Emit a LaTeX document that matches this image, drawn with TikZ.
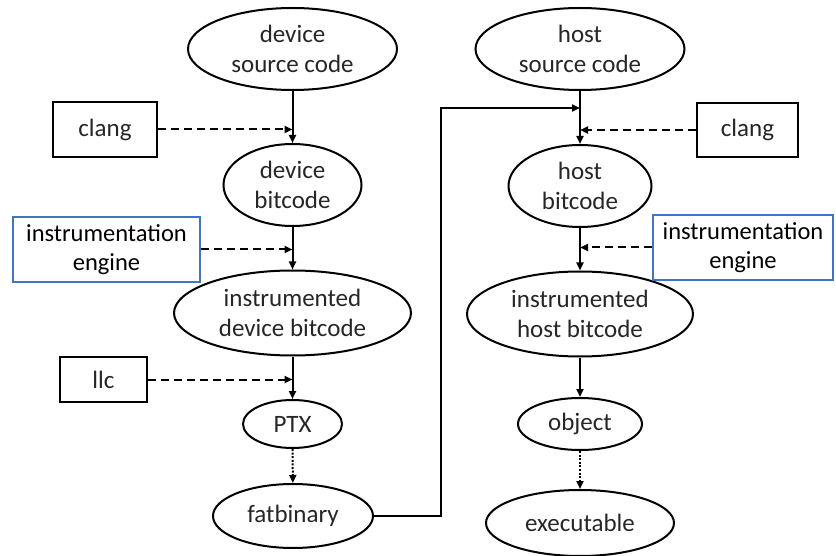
\documentclass[tikz,border=0pt]{standalone}
\usepackage{fontspec}
\setmainfont{Carlito}
\usetikzlibrary{shapes.geometric,arrows.meta}

\definecolor{engblue}{HTML}{4472C4}

\tikzset{
  stage/.style={ellipse, draw, line width=2pt, inner sep=0pt, align=center,
    text=black!85, font=\fontsize{25}{29.5}\selectfont},
  tool/.style={rectangle, draw, line width=1.8pt, inner sep=0pt, align=center,
    text=black!85, font=\fontsize{25}{29.5}\selectfont},
  engine/.style={rectangle, draw=engblue, line width=2.8pt, inner sep=0pt, align=center,
    text=black, font=\fontsize{24.5}{29.5}\selectfont},
  flow/.style={line width=2pt, -{Triangle[length=8pt,width=7pt]}},
  feed/.style={flow, dash pattern=on 8pt off 5pt},
  pack/.style={flow, dash pattern=on 2pt off 1.6pt},
}

\begin{document}
\begin{tikzpicture}[x=1pt,y=1pt]
\useasboundingbox (0,0) rectangle (836,-556);

% device side
\node[stage, minimum width=209, minimum height=82] (dsc) at (292.5,-49)  {device\\source code};
\node[stage, minimum width=138, minimum height=82] (dbc) at (292.5,-185) {device\\bitcode};
\node[stage, minimum width=237, minimum height=85] (idb) at (292.5,-313) {instrumented\\device bitcode};
\node[stage, minimum width=99,  minimum height=48] (ptx) at (292.5,-424) {PTX};
\node[stage, minimum width=160, minimum height=64] (fat) at (293,-516)   {fatbinary};

% host side
\node[stage, minimum width=209, minimum height=82] (hsc) at (580,-49)  {host\\source code};
\node[stage, minimum width=143, minimum height=82] (hbc) at (580,-186) {host\\bitcode};
\node[stage, minimum width=226, minimum height=85] (ihb) at (580,-314) {instrumented\\host bitcode};
\node[stage, minimum width=124, minimum height=52] (obj) at (580,-424) {object};
\node[stage, minimum width=188, minimum height=66] (exe) at (580,-523) {executable};

% tools
\node[tool,   minimum width=104, minimum height=55] (clangL) at (105,-129.5)   {clang};
\node[engine, minimum width=187, minimum height=65] (engL)   at (106.5,-249.5) {instrumentation\\engine};
\node[tool,   minimum width=87,  minimum height=45] (llc)    at (103.5,-379.5) {llc};
\node[tool,   minimum width=101, minimum height=54] (clangR) at (747.5,-130)   {clang};
\node[engine, minimum width=180, minimum height=65] (engR)   at (743,-247.5)   {instrumentation\\engine};

% main flow
\draw[flow] (dsc) -- (dbc);
\draw[flow] (dbc) -- (idb);
\draw[flow] (idb) -- (ptx);
\draw[pack] (ptx) -- (fat);
\draw[flow] (hsc) -- (hbc);
\draw[flow] (hbc) -- (ihb);
\draw[flow] (ihb) -- (obj);
\draw[pack] (obj) -- (exe);

% tool inputs
\draw[feed] (clangL.east) -- (clangL.east -| dsc.south);
\draw[feed] (engL.east)   -- (engL.east -| dbc.south);
\draw[feed] (llc.east)    -- (llc.east -| idb.south);
\draw[feed] (clangR.west) -- (clangR.west -| hsc.south);
\draw[feed] (engR.west)   -- (engR.west -| hbc.south);

% fatbinary joins host compilation
\coordinate (bend) at (441,-108);
\draw[flow] (fat.east) -| (bend) -- (bend -| hsc.south);
\end{tikzpicture}
\end{document}
